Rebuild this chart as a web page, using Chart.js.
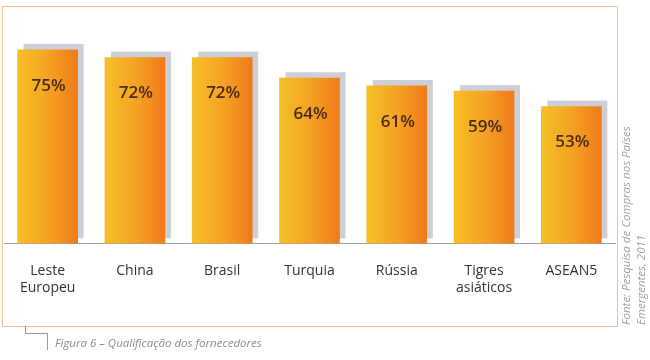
<!DOCTYPE html>
<html>
<head>
<meta charset="utf-8">
<script src="https://cdn.jsdelivr.net/npm/chart.js@4/dist/chart.umd.min.js"></script>
<style>
    body { margin: 0; background: #fff; }
    .wrap { position: relative; width: 650px; height: 360px; overflow: hidden; }
    .frame { position: absolute; left: 2px; top: 6px; width: 614px; height: 319px; border: 1px solid #f8c08a; }
    canvas { position: absolute; left: 0; top: 0; }
    .caption { position: absolute; left: 55px; top: 335px; font: italic 11.5px "Open Sans", sans-serif; color: #8c8c8c; white-space: nowrap; }
    .tick1 { position: absolute; left: 25px; top: 326px; width: 22px; height: 7px; border-left: 1px solid #9a9a9a; border-bottom: 1px solid #9a9a9a; }
    .tick2 { position: absolute; left: 47px; top: 333px; width: 0; height: 17px; border-left: 1px solid #9a9a9a; }
    .source { position: absolute; left: 618px; top: 325px; width: 260px; transform-origin: 0 0; transform: rotate(-90deg);
              font: italic 11.5px "Open Sans", sans-serif; line-height: 15px; color: #a0a0a0; white-space: nowrap; }
</style>
</head>
<body>
<div class="wrap">
    <div class="frame"></div>
    <canvas id="chart" width="650" height="360"></canvas>
    <div class="tick1"></div>
    <div class="tick2"></div>
    <div class="caption">Figura 6 – Qualificação dos fornecedores</div>
    <div class="source">Fonte: Pesquisa de Compras nos Países<br>Emergentes, 2011</div>
</div>
<script>
const categories = [['Leste', 'Europeu'], 'China', 'Brasil', 'Turquia', 'Rússia', ['Tigres', 'asiáticos'], 'ASEAN5'];
const shares = [75, 72, 72, 64, 61, 59, 53];
const shareLabels = ['75%', '72%', '72%', '64%', '61%', '59%', '53%'];

// grey block behind each bar, shifted up and to the right
const shadowPlugin = {
    id: 'barShadow',
    beforeDatasetsDraw(chart) {
        const ctx = chart.ctx;
        ctx.save();
        ctx.fillStyle = '#ccd0d6';
        chart.getDatasetMeta(0).data.forEach(bar => {
            const { x, y, base, width } = bar.getProps(['x', 'y', 'base', 'width'], true);
            ctx.fillRect(x - width / 2 + 6, y - 6, width, base - 5 - (y - 6));
        });
        ctx.restore();
    }
};

const valuePlugin = {
    id: 'valueLabels',
    afterDatasetsDraw(chart) {
        const ctx = chart.ctx;
        ctx.save();
        ctx.font = '600 17px "Open Sans", sans-serif';
        ctx.fillStyle = '#472b12';
        ctx.textAlign = 'center';
        ctx.textBaseline = 'middle';
        chart.getDatasetMeta(0).data.forEach((bar, i) => {
            const { x, y } = bar.getProps(['x', 'y'], true);
            ctx.fillText(shareLabels[i], x + 1, y + 36);
        });
        ctx.restore();
    }
};

function barGradient(c) {
    const chart = c.chart;
    if (!chart.chartArea || !chart.scales.x) return '#f39a22';
    const cx = chart.scales.x.getPixelForValue(c.dataIndex);
    const g = chart.ctx.createLinearGradient(cx - 30, 0, cx + 30, 0);
    g.addColorStop(0, '#f6bf26');
    g.addColorStop(0.5, '#f5a323');
    g.addColorStop(1, '#f07a1a');
    return g;
}

new Chart(document.getElementById('chart').getContext('2d'), {
    type: 'bar',
    data: {
        labels: categories,
        datasets: [{
            data: shares,
            backgroundColor: barGradient,
            borderWidth: 0,
            barThickness: 60
        }]
    },
    options: {
        responsive: false,
        animation: false,
        layout: { padding: { left: 4, right: 35, top: 24, bottom: 45 } },
        plugins: { legend: { display: false }, tooltip: { enabled: false } },
        scales: {
            x: {
                grid: { display: false, drawTicks: false },
                border: { display: true, color: '#9aa0a6', width: 1 },
                ticks: {
                    padding: 19,
                    color: '#333333',
                    font: { family: '"Open Sans", sans-serif', size: 14, weight: '500' }
                }
            },
            y: {
                display: false,
                min: 0,
                max: 85
            }
        }
    },
    plugins: [shadowPlugin, valuePlugin]
});
</script>
</body>
</html>
